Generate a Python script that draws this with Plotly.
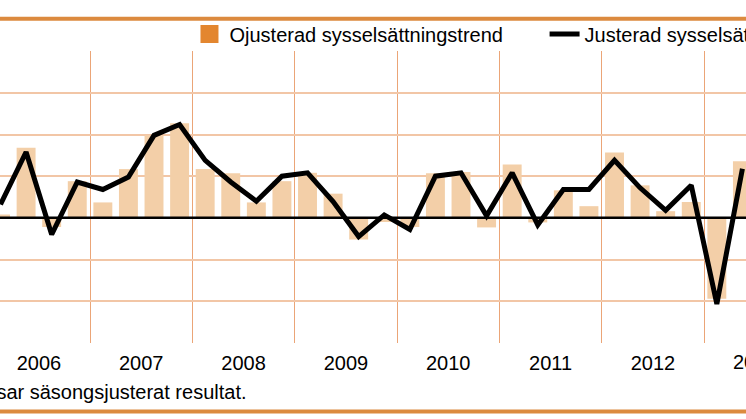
import plotly.graph_objs as go

# kvartal 2006K1 .. 2013K2
quarters = [f"{y}K{q}" for y in range(2006, 2014) for q in range(1, 5)][:30]
years = ["2006", "2007", "2008", "2009", "2010", "2011", "2012", "2013"]

# ojusterad sysselsättningstrend (staplar)
unadjusted = [0.08, 1.68, -0.22, 0.88,
              0.37, 1.17, 1.98, 2.27,
              1.17, 1.07, 0.37, 0.88,
              1.08, 0.58, -0.52, -0.10,
              -0.22, 1.07, 1.10, -0.23,
              1.28, -0.11, 0.66, 0.28,
              1.57, 0.78, 0.16, 0.38,
              -1.94, 1.36]

# justerad (säsongsjusterad) sysselsättningstrend (linje)
adjusted = [0.32, 1.58, -0.40, 0.86,
            0.68, 0.98, 1.98, 2.24,
            1.38, 0.86, 0.40, 1.00,
            1.08, 0.39, -0.45, 0.07,
            -0.28, 1.00, 1.08, 0.05,
            1.08, -0.17, 0.68, 0.68,
            1.38, 0.72, 0.18, 0.78,
            -2.07, 1.18]

bar_name = "Ojusterad sysselsättningstrend"
line_name = "Justerad sysselsättningstrend"
note = "Linjen visar säsongsjusterat resultat."

xpos = list(range(len(quarters)))
year_centers = [4 * k + 1.5 for k in range(len(years))]
year_bounds = [4 * k - 0.5 for k in range(1, len(years))]
x_range = [-0.02, 29.14]

BAR = "#F3CFA8"
ORANGE = "#E3862F"
RULE = "#DC8A3E"
HGRID = "#F2C6A6"
VGRID = "#EBA577"
FONT = "Liberation Sans, Arial, sans-serif"

fig = go.Figure()

fig.add_trace(go.Bar(
    x=xpos, y=unadjusted, name=bar_name,
    marker=dict(color=BAR, line=dict(width=0)),
    showlegend=False, hoverinfo="y"
))

# legend swatch for the bars (darker orange square like the original)
fig.add_trace(go.Scatter(
    x=[None], y=[None], mode="markers", name=bar_name,
    marker=dict(symbol="square", size=16, color=ORANGE,
                line=dict(color=ORANGE, width=2)),
    legend="legend"
))

fig.add_trace(go.Scatter(
    x=xpos, y=adjusted, mode="lines", name=line_name,
    line=dict(color="black", width=5),
    legend="legend2"
))

fig.update_layout(
    width=746, height=419,
    margin=dict(l=0, r=0, t=51, b=76, autoexpand=False),
    paper_bgcolor="white", plot_bgcolor="white",
    font=dict(family=FONT, size=20, color="black"),
    bargap=0.26,
    legend=dict(orientation="h", x=0.254, xanchor="left", y=1.058, yanchor="middle",
                font=dict(size=20), bgcolor="rgba(0,0,0,0)"),
    legend2=dict(orientation="h", x=0.73, xanchor="left", y=1.058, yanchor="middle",
                 font=dict(size=20), bgcolor="rgba(0,0,0,0)"),
    xaxis=dict(
        range=x_range,
        tickmode="array", tickvals=year_centers, ticktext=years,
        showgrid=False, ticks="", ticklabelstandoff=6,
        tickfont=dict(size=20),
        minor=dict(tickmode="array", tickvals=year_bounds, showgrid=True,
                   gridcolor=VGRID, gridwidth=1, ticks=""),
        zeroline=False, showline=False, fixedrange=True
    ),
    yaxis=dict(
        range=[-3.004, 4.004], dtick=1, tick0=0,
        showgrid=True, gridcolor=HGRID, gridwidth=1.5,
        zeroline=False,
        showticklabels=False, ticks="", showline=False, fixedrange=True
    ),
    showlegend=True,
)

# zero line on top of the bars (as in the original)
fig.add_hline(y=0, line=dict(color="black", width=2.5), layer="above")

# the last year label sits past the right edge, plotly drops it, so put it back
last = year_centers[-1]
fig.add_annotation(text=years[-1], xref="paper", yref="paper",
                   x=(last - x_range[0]) / (x_range[1] - x_range[0]), y=0,
                   xanchor="center", yanchor="top", yshift=-6, showarrow=False,
                   font=dict(size=20, family=FONT))

# orange rules above and below
fig.add_shape(type="line", xref="paper", yref="paper", x0=0, x1=1, y0=1.1106, y1=1.1106,
              line=dict(color=RULE, width=4))
fig.add_shape(type="line", xref="paper", yref="paper", x0=0, x1=1, y0=-0.2346, y1=-0.2346,
              line=dict(color=RULE, width=4))

fig.add_annotation(text=note, xref="paper", yref="paper", x=249 / 746, y=-0.168,
                   xanchor="right", yanchor="middle", showarrow=False,
                   font=dict(size=20, family=FONT))

# page body margin off, so the figure sits in the corner of the window
fig.write_html("out.html", config={"displayModeBar": False},
               post_script="document.body.style.margin='0';")
